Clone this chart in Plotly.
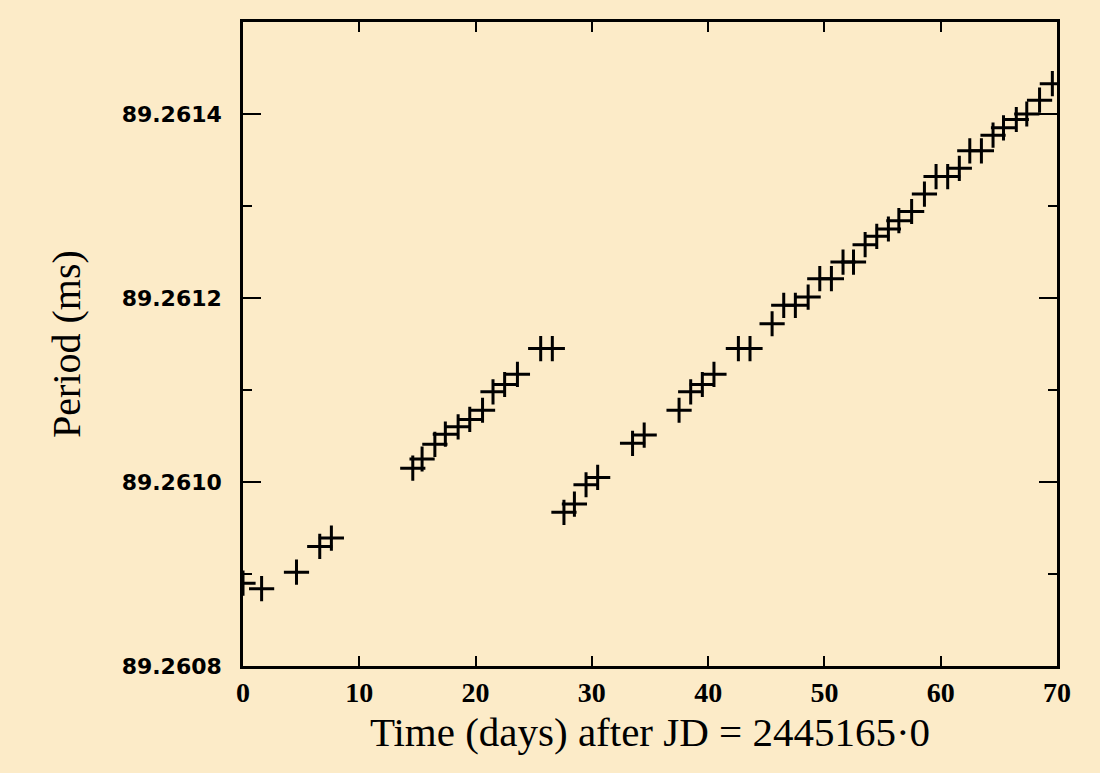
import plotly.graph_objects as go

# Time (days after JD 2445165.0)
days = [0.0, 1.6, 4.6, 6.6, 7.6,
        14.6, 15.4, 16.5, 17.4, 18.5, 19.5, 20.6, 21.5, 22.5, 23.6, 25.6, 26.6,
        27.6, 28.5, 29.5, 30.5, 33.5, 34.5, 37.5, 38.5, 39.5, 40.5, 42.6, 43.6,
        45.5, 46.5, 47.5, 48.6, 49.6, 50.6, 51.6, 52.5, 53.5, 54.5, 55.5, 56.4, 57.5,
        58.6, 59.6, 60.6, 61.6, 62.5, 63.5, 64.5, 65.4, 66.5, 67.4, 68.5, 69.6]

# Period (ms)
period = [89.260890, 89.260884, 89.260902, 89.260930, 89.260939,
          89.261015, 89.261025, 89.261041, 89.261052, 89.261060, 89.261068, 89.261078,
          89.261098, 89.261106, 89.261117, 89.261145, 89.261145,
          89.260967, 89.260976, 89.260997, 89.261005, 89.261042, 89.261051,
          89.261078, 89.261098, 89.261106, 89.261117, 89.261145, 89.261145,
          89.261172, 89.261192, 89.261192, 89.261201, 89.261221, 89.261221,
          89.261239, 89.261239, 89.261258, 89.261267, 89.261275, 89.261284, 89.261294,
          89.261313, 89.261332, 89.261332, 89.261341, 89.261360, 89.261360,
          89.261377, 89.261385, 89.261394, 89.261400, 89.261415, 89.261433]

x_ticks = [0, 10, 20, 30, 40, 50, 60, 70]
y_ticks = [89.2608, 89.2610, 89.2612, 89.2614]
y_tick_text = ["89.2608", "89.2610", "89.2612", "89.2614"]

bg = "#fcebc8"

fig = go.Figure()
fig.add_trace(go.Scatter(
    x=days, y=period, mode="markers",
    marker=dict(symbol="cross-thin", size=18, color="black",
                line=dict(color="black", width=3)),
    cliponaxis=True, showlegend=False,
))

fig.update_layout(
    width=1100, height=773,
    paper_bgcolor=bg, plot_bgcolor=bg,
    margin=dict(l=243, r=43, t=22, b=107),
)

fig.update_xaxes(
    range=[0, 70], tickvals=x_ticks, ticktext=[str(v) for v in x_ticks],
    showgrid=False, zeroline=False,
    showline=True, linecolor="black", linewidth=2.5, mirror="ticks",
    ticks="inside", ticklen=10, tickwidth=2.2, tickcolor="black",
    tickfont=dict(family="Liberation Serif", size=28, color="black", weight="bold"),
    ticklabelstandoff=0,
    title=dict(text="Time (days) after JD = 2445165·0",
               font=dict(family="Liberation Serif", size=41, color="black"),
               standoff=10),
)

fig.update_yaxes(
    range=[89.2608, 89.2615], tickvals=y_ticks, ticktext=y_tick_text,
    showgrid=False, zeroline=False,
    showline=True, linecolor="black", linewidth=2.5, mirror="ticks",
    ticks="inside", ticklen=18, tickwidth=2.2, tickcolor="black",
    minor=dict(tickvals=[89.2609, 89.2611, 89.2613], ticks="inside", ticklen=9,
               tickwidth=2.2, tickcolor="black", showgrid=False),
    tickfont=dict(family="DejaVu Sans", size=22, color="black", weight="bold"),
    ticklabelstandoff=14,
    title=dict(text="Period (ms)",
               font=dict(family="Liberation Serif", size=40, color="black"),
               standoff=29),
)

fig.write_html("out.html",
               config={"displayModeBar": False},
               post_script="document.body.style.margin='0';"
                           "document.body.style.background='" + bg + "';")
